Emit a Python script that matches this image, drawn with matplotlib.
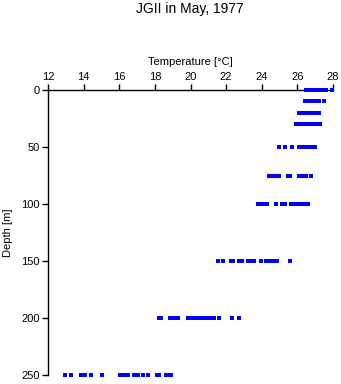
import numpy as np
import matplotlib.pyplot as plt

plt.rcParams['font.family'] = ['Liberation Sans', 'DejaVu Sans']

# depth levels [m] and temperatures [°C] read from the profile
depths = [0, 10, 20, 30, 50, 75, 100, 150, 200, 250]
temps = [
    [26.5, 26.65, 26.8, 26.95, 27.05, 27.15, 27.25, 27.35, 27.45, 27.6, 27.95],
    [26.4, 26.5, 26.6, 26.7, 26.8, 26.9, 27.0, 27.1, 27.2, 27.5],
    [26.1, 26.2, 26.3, 26.45, 26.6, 26.75, 26.9, 27.0, 27.2],
    [25.9, 26.0, 26.15, 26.25, 26.4, 26.55, 26.7, 26.85, 27.0, 27.15, 27.25],
    [24.95, 25.3, 25.7, 26.1, 26.25, 26.4, 26.55, 26.7, 26.85, 27.0],
    [24.4, 24.55, 24.75, 24.95, 25.45, 25.6, 26.1, 26.3, 26.5, 26.75],
    [23.8, 23.95, 24.1, 24.3, 24.8, 25.15, 25.3, 25.65, 25.85, 26.1, 26.3, 26.45, 26.6],
    [21.55, 21.85, 22.25, 22.4, 22.7, 22.9, 23.25, 23.4, 23.55, 23.95, 24.25,
     24.4, 24.55, 24.7, 24.85, 25.6],
    [18.25, 18.35, 18.85, 19.05, 19.3, 19.85, 20.05, 20.25, 20.45, 20.6, 20.8,
     20.95, 21.1, 21.3, 21.6, 22.35, 22.75],
    [12.95, 13.3, 13.85, 14.05, 14.4, 15.05, 16.05, 16.2, 16.35, 16.5, 16.8,
     17.05, 17.35, 17.6, 18.1, 18.25, 18.6, 18.75, 18.9],
]

fig = plt.figure(figsize=(3.41, 3.84), dpi=100)
ax = fig.add_axes([48 / 341, 9 / 384, 285 / 341, 285 / 384])

for d, t in zip(depths, temps):
    ax.plot(t, [d] * len(t), 's', color='#0000ff', markersize=2.2,
            markeredgewidth=0, clip_on=False, zorder=3)

ax.set_xlim(12, 28)
ax.set_ylim(250, 0)
ax.set_xticks(np.arange(12, 29, 2))
ax.set_yticks([0, 50, 100, 150, 200, 250])
ax.xaxis.tick_top()
ax.xaxis.set_label_position('top')
ax.tick_params(axis='both', direction='out', length=4, width=1,
               labelsize=8, pad=2)
for s in ['right', 'bottom']:
    ax.spines[s].set_visible(False)
for s in ['top', 'left']:
    ax.spines[s].set_linewidth(1)

ax.set_xlabel('Temperature [°C]', fontsize=8, labelpad=5)
ax.set_ylabel('Depth [m]', fontsize=8, labelpad=6)
fig.text(190 / 341, 1 - 9 / 384, 'JGII in May, 1977', ha='center',
         va='center', fontsize=10)

fig.savefig('out.png', dpi=100)
